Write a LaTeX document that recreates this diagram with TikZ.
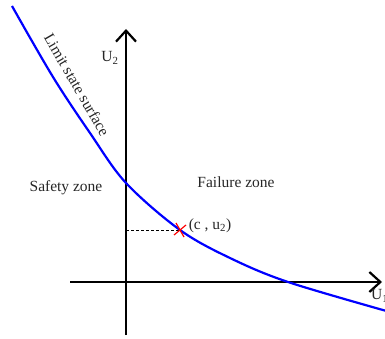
\documentclass[tikz,border=0pt]{standalone}
\usepackage{fontspec}
\setmainfont{Liberation Serif}
\usetikzlibrary{arrows.meta}
\begin{document}
\begin{tikzpicture}[x=1pt,y=1pt,
  axis/.style={line width=2.2pt,-{Straight Barb[length=11pt,width=20pt,line width=2.2pt]}},
  lss/.style={blue,line width=2.2pt},
  lbl/.style={font=\fontsize{15.5}{18}\selectfont,text=black!85,inner sep=0pt}]
\useasboundingbox (0,0) rectangle (385,338);
\begin{scope}
\clip (0,0) rectangle (385,338);
% axes
\coordinate (yb) at (126,3);
\coordinate (yt) at (126,309);
\coordinate (xl) at (70,56);
\coordinate (xr) at (382,56);
\draw[axis] (yb) -- (yt);
\draw[axis] (xl) -- (xr);
% limit state surface
\draw[lss] plot[smooth,tension=0.55] coordinates {(12,332) (53,261) (90,205) (126,155) (180,108) (230,80) (288,56) (390,26)};
% point
\coordinate (p) at (180,108);
\coordinate (pa) at (126,108);
\draw[dash pattern=on 3pt off 2pt,line width=0.7pt] (pa) -- (p);
\draw[red,line width=1.2pt] ([shift={(-6,-5)}]p) -- ([shift={(6,5)}]p);
\draw[red,line width=1.2pt] ([shift={(-4,7)}]p) -- ([shift={(4,-7)}]p);
% labels
\node[lbl] (u2) at (110,280) {U\textsubscript{2}};
\node[lbl,anchor=west] (u1) at (371,42) {U\textsubscript{1}};
\node[lbl,rotate=-60] (lss) at (77,253) {Limit state surface};
\node[lbl] (sz) at (66,150) {Safety zone};
\node[lbl] (fz) at (236,156) {Failure zone};
\node[lbl] (pt) at (210,112) {(c , u\textsubscript{2})};
\end{scope}
\end{tikzpicture}
\end{document}
